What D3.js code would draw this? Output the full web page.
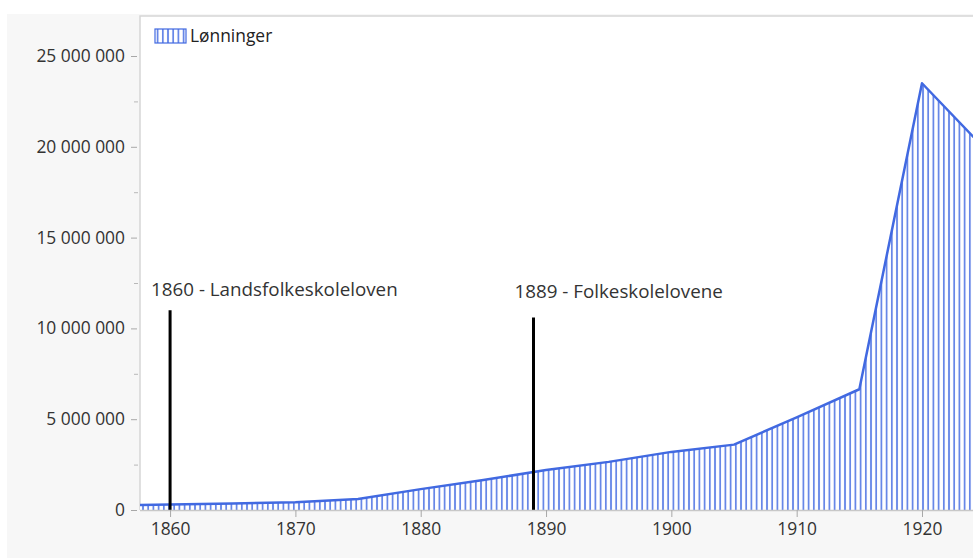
<!DOCTYPE html>
<html>
<head>
<meta charset="utf-8">
<script src="https://cdn.jsdelivr.net/npm/d3@7"></script>
<style>
  html, body { margin: 0; padding: 0; background: #ffffff; }
  svg { display: block; }
  text { font-family: "Open Sans", "Noto Sans", sans-serif; }
</style>
</head>
<body>
<svg id="chart" width="973" height="558"></svg>
<script>
// Lønninger (lærerlønninger), kroner per år
const years  = [1855, 1860, 1865, 1870, 1875, 1880, 1885, 1890, 1895, 1900, 1905, 1910, 1915, 1920, 1925];
const wages  = [240000, 300000, 360000, 420000, 600000, 1150000, 1650000, 2200000, 2650000, 3200000, 3600000, 5100000, 6650000, 23500000, 19900000];

// Skolelover markert med loddrette streker
const eventYears  = [1860, 1889];
const eventLabels = ["1860 - Landsfolkeskoleloven", "1889 - Folkeskolelovene"];
const eventTops   = [11000000, 10600000];
const eventLabelValues = [11800000, 11700000];

const yTicks = [0, 5000000, 10000000, 15000000, 20000000, 25000000];
const yMinorTicks = [2500000, 7500000, 12500000, 17500000, 22500000];
const xTicks = [1860, 1870, 1880, 1890, 1900, 1910, 1920];
const seriesName = "Lønninger";

const W = 973, H = 558;
const plot = { left: 140, top: 16, right: 973, bottom: 510 };
const blue = "#4169e1";
const axisFont = 17.4;
const noteFont = 18.8;

const svg = d3.select("#chart");

const x = d3.scaleLinear().domain([1857.6, 1924.07]).range([plot.left, plot.right]);
const y = d3.scaleLinear().domain([0, 25000000]).range([plot.bottom, 56]);

const defs = svg.append("defs");
const hatch = defs.append("pattern")
  .attr("id", "hatch")
  .attr("patternUnits", "userSpaceOnUse")
  .attr("width", 5.2).attr("height", 10);
hatch.append("rect").attr("width", 5.2).attr("height", 10).attr("fill", "#ffffff");
hatch.append("line")
  .attr("x1", 2.6).attr("x2", 2.6).attr("y1", 0).attr("y2", 10)
  .attr("stroke", blue).attr("stroke-width", 1.8).attr("stroke-opacity", 0.8);

defs.append("clipPath").attr("id", "plotClip")
  .append("rect")
  .attr("x", plot.left).attr("y", plot.top)
  .attr("width", plot.right - plot.left).attr("height", plot.bottom - plot.top);

// outer panel
svg.append("rect").attr("x", 7).attr("y", 14).attr("width", W - 7).attr("height", H - 14)
  .attr("fill", "#f7f7f7");

// plot area
svg.append("rect")
  .attr("x", plot.left).attr("y", plot.top)
  .attr("width", plot.right - plot.left).attr("height", plot.bottom - plot.top)
  .attr("fill", "#ffffff");
svg.append("path")
  .attr("d", `M${plot.left},${plot.bottom}V${plot.top}H${plot.right}`)
  .attr("fill", "none").attr("stroke", "#d6d6d6").attr("stroke-width", 1.5);

const data = years.map((yr, i) => ({ year: yr, value: wages[i] }));

const g = svg.append("g").attr("clip-path", "url(#plotClip)");

const area = d3.area().x(d => x(d.year)).y0(y(0)).y1(d => y(d.value));
const line = d3.line().x(d => x(d.year)).y(d => y(d.value));

g.append("path").datum(data).attr("d", area).attr("fill", "url(#hatch)");
g.append("path").datum(data).attr("d", line)
  .attr("fill", "none").attr("stroke", blue).attr("stroke-width", 2.5)
  .attr("stroke-linejoin", "round");

// event markers
eventYears.forEach((yr, i) => {
  svg.append("line")
    .attr("x1", x(yr)).attr("x2", x(yr))
    .attr("y1", y(eventTops[i])).attr("y2", y(0))
    .attr("stroke", "#000").attr("stroke-width", 3);
  svg.append("text")
    .attr("x", x(yr) - 19).attr("y", y(eventLabelValues[i]))
    .attr("fill", "#333").attr("font-size", noteFont)
    .text(eventLabels[i]);
});

// axes
const fmt = v => d3.format(",")(v).replace(/,/g, " ");

const yAxis = d3.axisLeft(y).tickValues(yTicks).tickFormat(fmt).tickSize(6).tickPadding(6);
const yAxisG = svg.append("g").attr("transform", `translate(${plot.left - 3},0)`).call(yAxis);
yAxisG.select(".domain").remove();
yAxisG.selectAll(".tick line").attr("stroke", "#a8a8a8");
yAxisG.selectAll(".tick text").attr("fill", "#333").attr("font-size", axisFont)
  .attr("font-family", "'Open Sans', 'Noto Sans', sans-serif");

const yMinor = d3.axisLeft(y).tickValues(yMinorTicks).tickFormat("").tickSize(4);
const yMinorG = svg.append("g").attr("transform", `translate(${plot.left - 2},0)`).call(yMinor);
yMinorG.select(".domain").remove();
yMinorG.selectAll(".tick line").attr("stroke", "#b8b8b8");

const xAxis = d3.axisBottom(x).tickValues(xTicks).tickFormat(d3.format("d")).tickSize(7).tickPadding(6);
const xAxisG = svg.append("g").attr("transform", `translate(0,${plot.bottom})`).call(xAxis);
xAxisG.select(".domain").attr("stroke", "#c8c8c8").attr("stroke-width", 1.5)
  .attr("d", `M${plot.left},0.5H${plot.right}`);
xAxisG.selectAll(".tick line").attr("stroke", "#a8a8a8");
xAxisG.selectAll(".tick text").attr("fill", "#333").attr("font-size", axisFont)
  .attr("font-family", "'Open Sans', 'Noto Sans', sans-serif");

// legend
const lg = svg.append("g").attr("transform", "translate(155,29)");
lg.append("rect").attr("width", 31).attr("height", 14)
  .attr("fill", "url(#hatch)").attr("stroke", blue).attr("stroke-width", 1.2);
lg.append("text").attr("x", 35).attr("y", 13)
  .attr("fill", "#222").attr("font-size", axisFont).text(seriesName);
</script>
</body>
</html>
